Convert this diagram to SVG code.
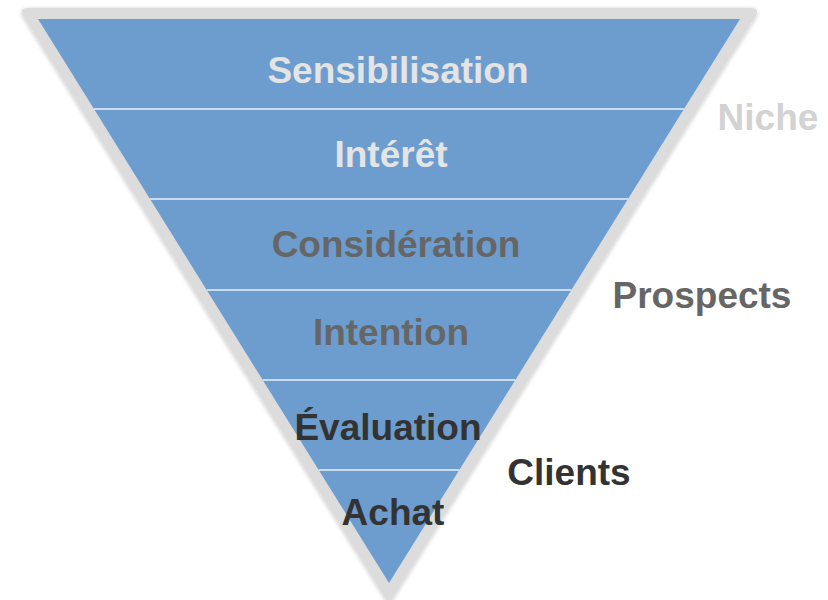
<svg xmlns="http://www.w3.org/2000/svg" width="828" height="600" viewBox="0 0 828 600">
  <defs>
    <filter id="sh" x="-5%" y="-5%" width="110%" height="110%">
      <feGaussianBlur in="SourceAlpha" stdDeviation="2"/>
      <feOffset dx="0" dy="1" result="b"/>
      <feComponentTransfer><feFuncA type="linear" slope="0.25"/></feComponentTransfer>
      <feMerge><feMergeNode/><feMergeNode in="SourceGraphic"/></feMerge>
    </filter>
  </defs>
  <style>
    text { font-family: "Liberation Sans", Arial, sans-serif; font-weight: bold; font-size: 37px; text-anchor: middle; }
    .light { fill: #e4e4e4; }
    .mid { fill: #666666; }
    .dark { fill: #333333; }
    .niche { fill: #d2d2d2; }
    .div { stroke: #c9dbef; stroke-width: 2; }
  </style>
  <rect width="828" height="600" fill="#ffffff"/>
  <g id="funnel">
    <path d="M 28,8 H 750 Q 760.8,8 755.2,17 L 389,604 L 23.8,17 Q 18.2,8 28,8 Z" fill="#dcdcdc" filter="url(#sh)"/>
    <polygon points="38,19 740,19 389,583" fill="#6d9dcf"/>
  </g>
  <g id="dividers">
    <line class="div" x1="94" y1="109" x2="684" y2="109"/>
    <line class="div" x1="150" y1="199" x2="628" y2="199"/>
    <line class="div" x1="206.6" y1="290" x2="571.4" y2="290"/>
    <line class="div" x1="262.6" y1="380" x2="515.4" y2="380"/>
    <line class="div" x1="318.7" y1="470" x2="459.3" y2="470"/>
  </g>
  <g id="sensibilisation"><text class="light" x="398" y="83">Sensibilisation</text></g>
  <g id="interet"><text class="light" x="391" y="167">Intérêt</text></g>
  <g id="consideration"><text class="mid" x="396" y="257">Considération</text></g>
  <g id="intention"><text class="mid" x="391" y="345">Intention</text></g>
  <g id="evaluation"><text class="dark" x="388" y="440">Évaluation</text></g>
  <g id="achat"><text class="dark" x="393" y="525">Achat</text></g>
  <g id="niche"><text class="niche" x="768" y="130">Niche</text></g>
  <g id="prospects"><text class="mid" x="702" y="308">Prospects</text></g>
  <g id="clients"><text class="dark" x="569" y="485">Clients</text></g>
</svg>
